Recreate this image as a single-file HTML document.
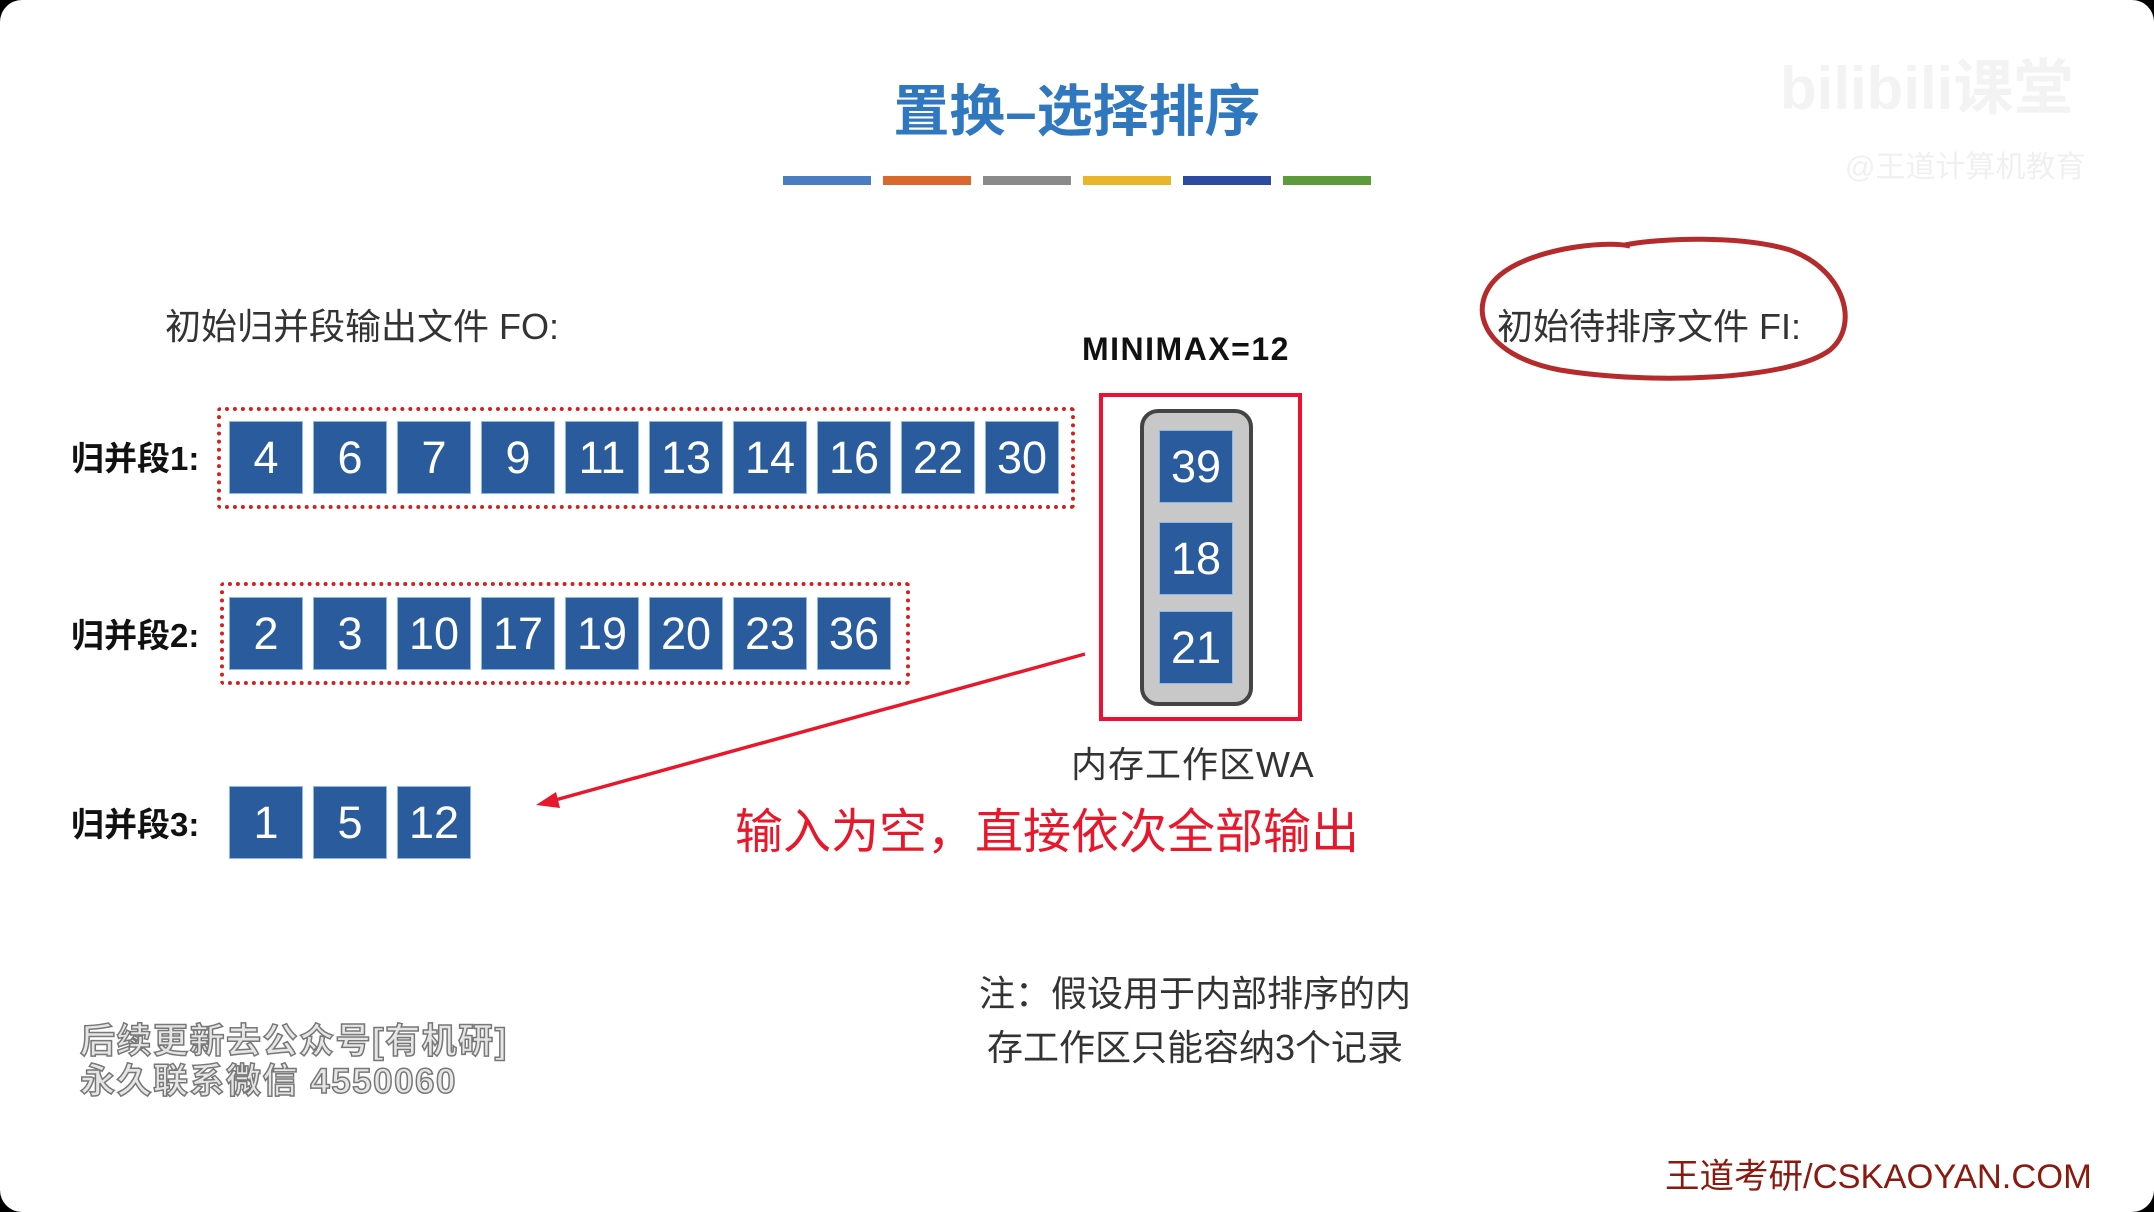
<!DOCTYPE html>
<html><head><meta charset="utf-8"><style>
*{margin:0;padding:0;box-sizing:border-box}
html,body{width:2154px;height:1212px;background:#000;overflow:hidden}
#p{position:absolute;left:0;top:0;width:2154px;height:1212px;background:#fff;border-radius:22px;overflow:hidden;font-family:"Liberation Sans","Noto Sans CJK SC",sans-serif}
.a{position:absolute;white-space:nowrap}
.b{position:absolute;width:74px;height:73px;background:#2a5b9d;border:1px solid #8ab8e8;color:#fff;font:45px "Liberation Sans",sans-serif;display:flex;align-items:center;justify-content:center}
.dot{position:absolute;border:4px dotted #d42020;border-radius:4px}
.lab{font-weight:bold;font-size:33px;color:#111}
.bar{position:absolute;top:176px;height:9px;width:88px}
</style></head><body><div id="p">
<div class="a" style="left:0;width:2154px;top:67px;text-align:center;font-size:56px;font-weight:bold;color:#2f78c0">置换–选择排序</div>
<div class="bar" style="left:783px;background:#4a7dc0"></div>
<div class="bar" style="left:883px;background:#d9682c"></div>
<div class="bar" style="left:983px;background:#8a8a8a"></div>
<div class="bar" style="left:1083px;background:#e8b628"></div>
<div class="bar" style="left:1183px;background:#2c4aa0"></div>
<div class="bar" style="left:1283px;background:#5c9a3c"></div>
<div class="a" style="left:1780px;top:40px;font-size:60px;font-weight:bold;color:#f3f3f3">bilibili课堂</div>
<div class="a" style="left:1845px;top:142px;font-size:30px;color:#f0f0f0">@王道计算机教育</div>

<div class="a" style="left:165px;top:298px;font-size:36px;color:#333">初始归并段输出文件 FO:</div>
<div class="a" style="left:1497px;top:298px;font-size:36px;color:#333">初始待排序文件 FI:</div>
<svg class="a" style="left:0;top:0" width="2154" height="1212">
<path d="M1630 246 C1600 240 1530 250 1500 275 C1465 305 1480 355 1560 370 C1650 385 1790 380 1830 350 C1860 325 1845 270 1790 250 C1740 235 1660 238 1625 245" fill="none" stroke="#b52a2a" stroke-width="5"/>
<line x1="1085" y1="654" x2="548" y2="802" stroke="#e8182c" stroke-width="3.5"/>
<polygon points="536,805 556,792 560,808" fill="#e8182c"/>
</svg>
<div class="a" style="left:1082px;top:331px;font-size:32px;font-weight:bold;color:#111;letter-spacing:1.5px">MINIMAX=12</div>

<div class="a lab" style="left:71px;top:432px">归并段1:</div>
<div class="a lab" style="left:71px;top:609px">归并段2:</div>
<div class="a lab" style="left:71px;top:798px">归并段3:</div>
<div class="dot" style="left:217px;top:407px;width:858px;height:102px"></div>
<div class="dot" style="left:220px;top:582px;width:690px;height:103px"></div>

<div class="b" style="left:229px;top:421px">4</div>
<div class="b" style="left:313px;top:421px">6</div>
<div class="b" style="left:397px;top:421px">7</div>
<div class="b" style="left:481px;top:421px">9</div>
<div class="b" style="left:565px;top:421px">11</div>
<div class="b" style="left:649px;top:421px">13</div>
<div class="b" style="left:733px;top:421px">14</div>
<div class="b" style="left:817px;top:421px">16</div>
<div class="b" style="left:901px;top:421px">22</div>
<div class="b" style="left:985px;top:421px">30</div>

<div class="b" style="left:229px;top:597px">2</div>
<div class="b" style="left:313px;top:597px">3</div>
<div class="b" style="left:397px;top:597px">10</div>
<div class="b" style="left:481px;top:597px">17</div>
<div class="b" style="left:565px;top:597px">19</div>
<div class="b" style="left:649px;top:597px">20</div>
<div class="b" style="left:733px;top:597px">23</div>
<div class="b" style="left:817px;top:597px">36</div>

<div class="b" style="left:229px;top:786px">1</div>
<div class="b" style="left:313px;top:786px">5</div>
<div class="b" style="left:397px;top:786px">12</div>

<div class="a" style="left:1099px;top:393px;width:203px;height:328px;border:4px solid #ee1030"></div>
<div class="a" style="left:1140px;top:409px;width:113px;height:297px;background:#c8c8c8;border:4px solid #444;border-radius:18px"></div>
<div class="b" style="left:1159px;top:430px">39</div>
<div class="b" style="left:1159px;top:522px">18</div>
<div class="b" style="left:1159px;top:611px">21</div>
<div class="a" style="left:1071px;top:736px;font-size:36px;color:#333;letter-spacing:1px">内存工作区WA</div>

<div class="a" style="left:735px;top:792px;font-size:48px;color:#e8182c">输入为空，直接依次全部输出</div>

<div class="a" style="left:0;width:2390px;top:967px;text-align:center;font-size:36px;color:#333;line-height:54px">注：假设用于内部排序的内<br>存工作区只能容纳3个记录</div>

<div class="a" style="left:80px;top:1022px;font-size:35px;font-weight:bold;color:#e6e6e6;line-height:40px;-webkit-text-stroke:1.5px #777;letter-spacing:1.5px">后续更新去公众号[有机研]<br>永久联系微信 4550060</div>
<div class="a" style="left:1665px;top:1148px;font-size:34.5px;color:#8a1a10">王道考研/CSKAOYAN.COM</div>
</div></body></html>
